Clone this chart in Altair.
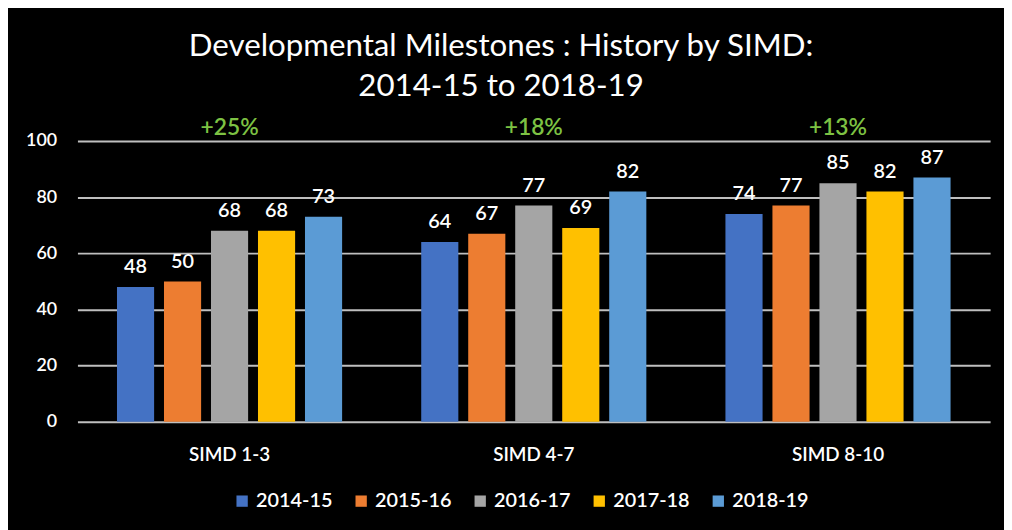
import altair as alt
import pandas as pd

groups = ["SIMD 1-3", "SIMD 4-7", "SIMD 8-10"]
years = ["2014-15", "2015-16", "2016-17", "2017-18", "2018-19"]
values = {
    "SIMD 1-3": [48, 50, 68, 68, 73],
    "SIMD 4-7": [64, 67, 77, 69, 82],
    "SIMD 8-10": [74, 77, 85, 82, 87],
}
changes = ["+25%", "+18%", "+13%"]
colors = ["#4472C4", "#ED7D31", "#A5A5A5", "#FFC000", "#5B9BD5"]

rows = []
for g in groups:
    for y, v in zip(years, values[g]):
        rows.append({"group": g, "year": y, "value": v})
df = pd.DataFrame(rows)
pct = pd.DataFrame({"group": groups, "change": changes, "top": [100] * 3})

FONT = "Lato"

x = alt.X("group:N", sort=groups, title=None,
          scale=alt.Scale(paddingInner=0.26, paddingOuter=0.13),
          axis=alt.Axis(labelAngle=0, labelColor="white", labelFontSize=19,
                        labelFont=FONT, labelFontWeight=600, labelPadding=24,
                        ticks=False, domain=False))
xo = alt.XOffset("year:N", sort=years, scale=alt.Scale(paddingInner=0.21))
y = alt.Y("value:Q", title=None, scale=alt.Scale(domain=[0, 100]),
          axis=alt.Axis(values=[0, 20, 40, 60, 80, 100], labelColor="white",
                        labelFontSize=18, labelFont=FONT, labelFontWeight=600,
                        labelPadding=21, ticks=False, domain=False,
                        grid=True, gridColor="#BFBFBF", gridWidth=2, gridOpacity=1))

bars = alt.Chart(df).mark_bar().encode(
    x=x, xOffset=xo, y=y,
    color=alt.Color("year:N", sort=years, title=None,
                    scale=alt.Scale(domain=years, range=colors),
                    legend=alt.Legend(orient="none", direction="horizontal",
                                      legendX=156, legendY=353, columns=5,
                                      symbolType="square", symbolSize=130,
                                      symbolStrokeWidth=0, labelColor="white",
                                      labelFontSize=20, labelFont=FONT,
                                      labelFontWeight=600,
                                      columnPadding=18, labelOffset=4)),
)

labels = alt.Chart(df).mark_text(color="white", fontSize=20, font=FONT,
                                 fontWeight=600, baseline="alphabetic",
                                 dy=-14).encode(
    x=alt.X("group:N", sort=groups), xOffset=xo,
    y=alt.Y("value:Q"), text="value:Q")

greens = alt.Chart(pct).mark_text(color="#7DC243", fontSize=23, font=FONT,
                                  fontWeight=600, baseline="alphabetic",
                                  dy=-6).encode(
    x=alt.X("group:N", sort=groups), y=alt.Y("top:Q"), text="change:N")

chart = alt.layer(bars, labels, greens).properties(
    width=920, height=283,
    background="black",
    padding={"left": 70, "top": 132, "right": 14, "bottom": 107},
    autosize=alt.AutoSizeParams(type="none"),
    title=alt.TitleParams(
        ["Developmental Milestones : History by SIMD:", "2014-15 to 2018-19"],
        color="white", font=FONT, fontSize=31.5, fontWeight="normal",
        anchor="middle", dx=-33, offset=15, lineHeight=40),
).configure_view(stroke=None)

chart.save("out.html", embed_options={"renderer": "svg", "actions": False})
